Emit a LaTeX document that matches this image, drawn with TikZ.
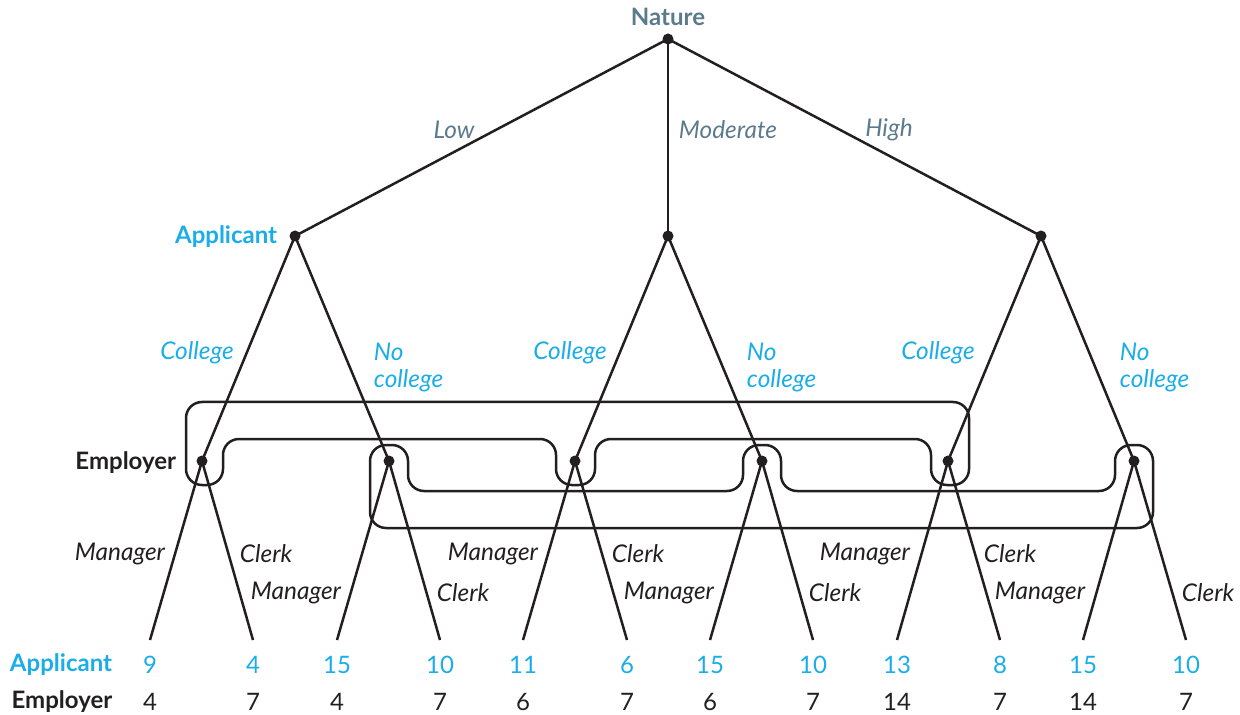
\documentclass[tikz,border=0pt]{standalone}
\usepackage{fontspec}
\setmainfont{Lato}
\definecolor{natc}{HTML}{5B7B8C}
\definecolor{appc}{HTML}{1AADE8}
\definecolor{inkc}{HTML}{231F20}
\begin{document}
\begin{tikzpicture}[x=0.5pt,y=-0.5pt,line width=1.25pt,color=inkc,
  dot/.style={circle,fill=inkc,inner sep=0pt,minimum size=5.5pt},
  natname/.style={font=\bfseries\fontsize{12}{13}\selectfont,text=natc},
  natlab/.style={font=\itshape\fontsize{12.2}{13}\selectfont,text=natc},
  appname/.style={font=\bfseries\fontsize{12}{13}\selectfont,text=appc},
  applab/.style={font=\itshape\fontsize{12.2}{13.5}\selectfont,text=appc,align=left},
  empname/.style={font=\bfseries\fontsize{12}{13}\selectfont,text=inkc},
  emplab/.style={font=\itshape\fontsize{12.2}{13}\selectfont,text=inkc},
  apay/.style={font=\fontsize{12}{13}\selectfont,text=appc},
  epay/.style={font=\fontsize{12}{13}\selectfont,text=inkc},
  infoset/.style={line width=1.25pt,rounded corners=8pt}]
\useasboundingbox (0,0) rectangle (1240,715);

% decision nodes
\node[dot] (N) at (668,39) {};
\node[dot] (A1) at (295,236) {};
\node[dot] (A2) at (668,236) {};
\node[dot] (A3) at (1041,236) {};
\node[dot] (E1) at (202,461) {};
\node[dot] (E2) at (389,461) {};
\node[dot] (E3) at (575,461) {};
\node[dot] (E4) at (762,461) {};
\node[dot] (E5) at (948,461) {};
\node[dot] (E6) at (1134,461) {};

% leaves
\foreach \i/\x in {1/150,2/253,3/337,4/440,5/523,6/627,7/710,8/813,9/897,10/1000,11/1083,12/1186}
  \coordinate (L\i) at (\x,640);

% information sets
\draw[infoset] (186,402) -- (969,402) -- (969,485) -- (931,485) -- (931,439)
  -- (595,439) -- (595,485) -- (556,485) -- (556,439) -- (223,439)
  -- (223,485) -- (186,485) -- cycle;
\draw[infoset] (370,528) -- (370,445) -- (408,445) -- (408,491) -- (743,491)
  -- (743,445) -- (781,445) -- (781,491) -- (1115,491) -- (1115,445)
  -- (1153,445) -- (1153,528) -- cycle;

% edges
\draw (N.center) -- (A1.center);
\draw (N.center) -- (A2.center);
\draw (N.center) -- (A3.center);
\draw (A1.center) -- (E1.center);
\draw (A1.center) -- (E2.center);
\draw (A2.center) -- (E3.center);
\draw (A2.center) -- (E4.center);
\draw (A3.center) -- (E5.center);
\draw (A3.center) -- (E6.center);
\draw (E1.center) -- (L1);  \draw (E1.center) -- (L2);
\draw (E2.center) -- (L3);  \draw (E2.center) -- (L4);
\draw (E3.center) -- (L5);  \draw (E3.center) -- (L6);
\draw (E4.center) -- (L7);  \draw (E4.center) -- (L8);
\draw (E5.center) -- (L9);  \draw (E5.center) -- (L10);
\draw (E6.center) -- (L11); \draw (E6.center) -- (L12);

% player names
\node[natname] (tN) at (668,17) {Nature};
\node[appname,anchor=east] (tA) at (285,237) {Applicant};
\node[empname,anchor=east] (tE) at (184,463) {Employer};

% nature move labels
\node[natlab] (lLow) at (454,130) {Low};
\node[natlab] (lMod) at (728,130) {Moderate};
\node[natlab] (lHigh) at (889,130) {High};

% applicant move labels
\node[applab] (c1) at (197,353) {College};
\node[applab,anchor=west] (n1) at (366,367) {No\\college};
\node[applab] (c2) at (570,353) {College};
\node[applab,anchor=west] (n2) at (739,367) {No\\college};
\node[applab] (c3) at (938,353) {College};
\node[applab,anchor=west] (n3) at (1112,367) {No\\college};

% employer move labels
\node[emplab] (m1) at (120,554) {Manager};
\node[emplab] (k1) at (266,554) {Clerk};
\node[emplab] (m2) at (296,593) {Manager};
\node[emplab] (k2) at (463,593) {Clerk};
\node[emplab] (m3) at (493,554) {Manager};
\node[emplab] (k3) at (638,554) {Clerk};
\node[emplab] (m4) at (669,593) {Manager};
\node[emplab] (k4) at (835,593) {Clerk};
\node[emplab] (m5) at (865,554) {Manager};
\node[emplab] (k5) at (1010,554) {Clerk};
\node[emplab] (m6) at (1040,593) {Manager};
\node[emplab] (k6) at (1208,593) {Clerk};

% payoff row labels
\node[appname] (pA) at (61,665) {Applicant};
\node[empname] (pE) at (62,702) {Employer};

% payoffs
\foreach \i/\x/\a/\e in {1/150/9/4,2/253/4/7,3/337/15/4,4/440/10/7,5/523/11/6,6/627/6/7,
  7/710/15/6,8/813/10/7,9/897/13/14,10/1000/8/7,11/1083/15/14,12/1186/10/7}{
  \node[apay] (pa\i) at (\x,665) {\a};
  \node[epay] (pe\i) at (\x,702) {\e};
}
\end{tikzpicture}
\end{document}
